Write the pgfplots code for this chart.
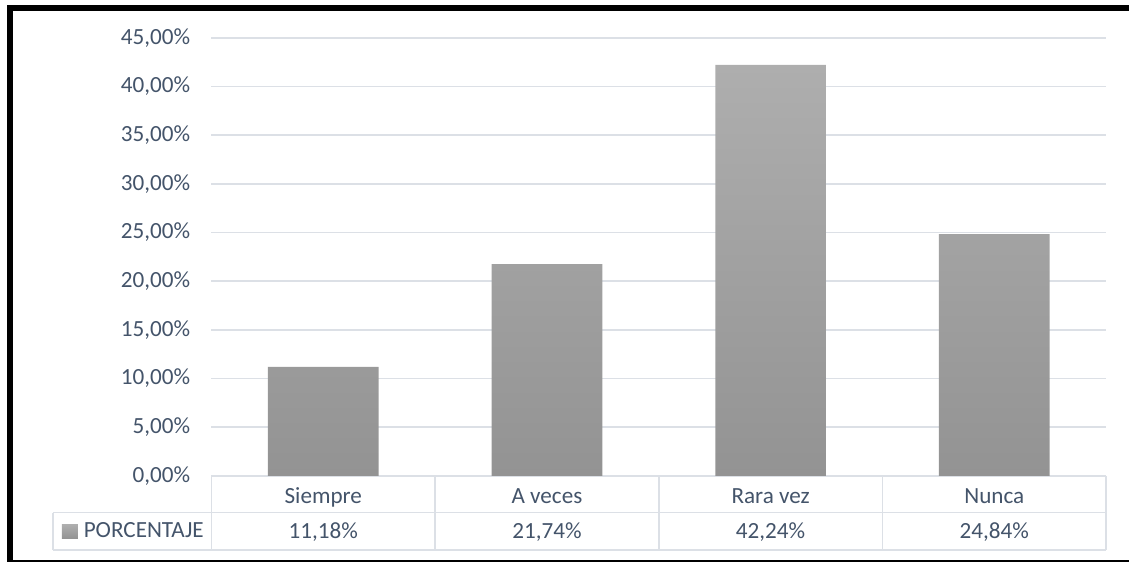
\documentclass[border=0pt]{standalone}
\usepackage{pgfplots}
\usepackage{pgfplotstable}
\pgfplotsset{compat=1.18}
\usepackage{fontspec}
\setmainfont{Carlito}

\definecolor{textcol}{HTML}{44546A}
\definecolor{gridcol}{HTML}{DCE0E6}
\definecolor{bartop}{HTML}{AEAEAE}
\definecolor{barbot}{HTML}{939393}
\newcommand\chartfont{\fontsize{11.6bp}{14bp}\selectfont}

% category index and share of answers (percent)
\pgfplotstableread{
x val
0 11.18
1 21.74
2 42.24
3 24.84
}\datatable

\begin{document}
\begin{tikzpicture}
% page frame: 1132 x 563 units of 0.5bp, origin at the top left
\begin{scope}[x=0.5bp,y=-0.5bp,yshift=281.5bp]
  \path[use as bounding box] (0,0) rectangle (1132,563);
\end{scope}

\begin{axis}[
  at={(106bp,43bp)}, anchor=south west,
  scale only axis, width=448.5bp, height=219.5bp,
  xmin=-0.5, xmax=3.5, ymin=0, ymax=45,
  clip=false,
  axis line style={draw=none},
  major tick length=0pt,
  ytick={0,5,...,45},
  xtick={0,1,2,3},
  xticklabels={Siempre,A veces,Rara vez,Nunca},
  ymajorgrids,
  grid style={gridcol, line width=0.85bp},
  /pgf/number format/assume math mode=true,
  yticklabel={\pgfmathprintnumber[fixed,fixed zerofill,precision=2,use comma]{\tick}\%},
  tick label style={font=\chartfont, text=textcol},
  yticklabel style={anchor=east, inner sep=0pt, xshift=-10.5bp},
  xticklabel style={anchor=base, inner sep=0pt, yshift=-14bp},
  legend style={at={(axis cs:-1.169,-5.74)}, anchor=west, draw=none, fill=none,
    inner sep=0pt, outer sep=0pt, font=\chartfont, text=textcol,
    nodes={inner sep=1bp},
    /tikz/every odd column/.append style={column sep=2bp}},
]
% bars
\addplot[ybar, bar width=55.5bp, draw=none, top color=bartop, bottom color=barbot,
  legend image code/.code={\shade[top color=bartop, bottom color=barbot,draw=none]
    (0bp,-3.6bp) rectangle (8bp,3.6bp);}]
  table[x=x, y=val] {\datatable};
\addlegendentry{PORCENTAJE}

% value row of the data table
\addplot[forget plot, draw=none, mark=none,
  nodes near coords={\pgfmathprintnumber[fixed,fixed zerofill,precision=2,use comma]{\pgfplotspointmeta}\%},
  point meta=explicit,
  every node near coord/.append style={anchor=base, font=\chartfont, text=textcol, inner sep=0pt}]
  table[x=x, y expr=-6.4, meta=val] {\datatable};

% data table grid
\draw[gridcol, line width=0.85bp]
  (axis cs:-1.209,-3.79) -- (axis cs:3.5,-3.79)
  (axis cs:-1.209,-7.64) -- (axis cs:3.5,-7.64)
  (axis cs:-1.209,-3.79) -- (axis cs:-1.209,-7.64)
  (axis cs:-0.5,0) -- (axis cs:-0.5,-7.64)
  (axis cs:0.5,0) -- (axis cs:0.5,-7.64)
  (axis cs:1.5,0) -- (axis cs:1.5,-7.64)
  (axis cs:2.5,0) -- (axis cs:2.5,-7.64)
  (axis cs:3.5,0) -- (axis cs:3.5,-7.64);
\end{axis}

% outer frame
\begin{scope}[x=0.5bp,y=-0.5bp,yshift=281.5bp]
  \draw[line width=3bp] (10,563) -- (10,8) -- (1132,8);
  \draw[line width=1bp] (13,562) -- (1132,562);
\end{scope}
\end{tikzpicture}
\end{document}
